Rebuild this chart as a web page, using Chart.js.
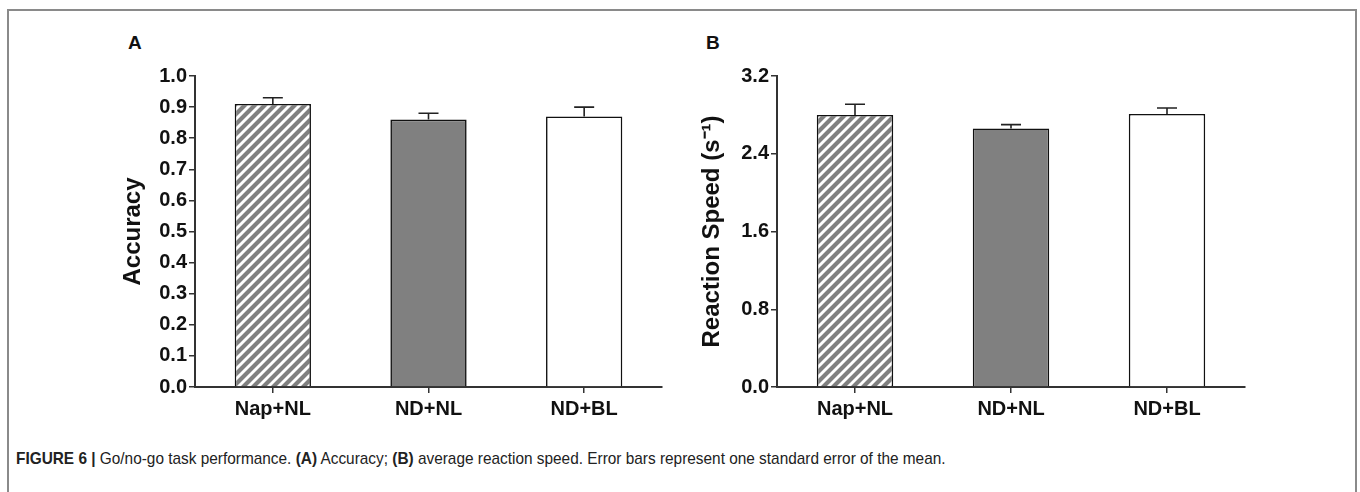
<!DOCTYPE html>
<html>
<head>
<meta charset="utf-8">
<script src="https://cdn.jsdelivr.net/npm/chart.js@4"></script>
<style>
  body { margin: 0; background: #fff; width: 1360px; height: 492px; overflow: hidden; position: relative; font-family: "Liberation Sans", Arial, sans-serif; }
  #frame { position: absolute; left: 7px; top: 9px; width: 1350px; height: 520px; border: 2px solid #8a8a8a; box-sizing: border-box; }
  .wrap { position: absolute; top: 0; width: 680px; height: 440px; }
  .panel { position: absolute; font-weight: bold; font-size: 19px; color: #111; }
  #caption { position: absolute; left: 16px; top: 449px; font-size: 17px; color: #222; white-space: nowrap; transform: scaleX(0.905); transform-origin: 0 0; }
</style>
</head>
<body>
<div id="frame"></div>
<div class="panel" style="left:128px; top:32px;">A</div>
<div class="panel" style="left:706px; top:32px;">B</div>
<div class="wrap" style="left:0px;"><canvas id="chartA" width="680" height="440"></canvas></div>
<div class="wrap" style="left:680px;"><canvas id="chartB" width="680" height="440"></canvas></div>
<div id="caption"><b>FIGURE 6 |</b> Go/no-go task performance. <b>(A)</b> Accuracy; <b>(B)</b> average reaction speed. Error bars represent one standard error of the mean.</div>
<script>
const groups = ["Nap+NL", "ND+NL", "ND+BL"];
const accuracy = [0.91, 0.86, 0.87];
const accuracyErr = [0.02, 0.02, 0.03];
const speed = [2.80, 2.66, 2.81];
const speedErr = [0.11, 0.04, 0.06];

const tickFont = { family: "Liberation Sans", size: 20, weight: "bold" };
const axisColor = "#333";

function hatchPattern() {
    const c = document.createElement("canvas");
    c.width = 10;
    c.height = 10;
    const g = c.getContext("2d");
    g.fillStyle = "#fff";
    g.fillRect(0, 0, 10, 10);
    g.strokeStyle = "#808080";
    g.lineWidth = 4.2;
    g.beginPath();
    g.moveTo(-5, 5); g.lineTo(5, -5);
    g.moveTo(0, 10); g.lineTo(10, 0);
    g.moveTo(5, 15); g.lineTo(15, 5);
    g.stroke();
    return g.createPattern(c, "repeat");
}

const errorBars = {
    id: "errorBars",
    afterDatasetsDraw(chart) {
        const ctx = chart.ctx;
        const errs = chart.options.plugins.errorBars.values;
        const yScale = chart.scales.y;
        const meta = chart.getDatasetMeta(0);
        ctx.save();
        ctx.strokeStyle = "#222";
        ctx.lineWidth = 1.6;
        meta.data.forEach((bar, i) => {
            const v = chart.data.datasets[0].data[i];
            const top = yScale.getPixelForValue(v + errs[i]);
            ctx.beginPath();
            ctx.moveTo(bar.x, bar.y);
            ctx.lineTo(bar.x, top);
            ctx.moveTo(bar.x - 10, top);
            ctx.lineTo(bar.x + 10, top);
            ctx.stroke();
        });
        ctx.restore();
    }
};

function createChart(id, values, errs, yMax, step, title, pad, yWidth, titlePad) {
    return new Chart(id, {
        type: "bar",
        data: {
            labels: groups,
            datasets: [{
                data: values,
                backgroundColor: [hatchPattern(), "#808080", "#fff"],
                borderColor: "#111",
                borderWidth: 1.6,
                barPercentage: 0.98,
                categoryPercentage: 0.5
            }]
        },
        options: {
            responsive: false,
            animation: false,
            layout: { padding: pad },
            plugins: {
                legend: { display: false },
                tooltip: { enabled: false },
                errorBars: { values: errs }
            },
            scales: {
                x: {
                    grid: { drawOnChartArea: false, offset: false, tickLength: 6, color: axisColor, lineWidth: 1.5 },
                    border: { display: true, color: axisColor, width: 2 },
                    ticks: { font: tickFont, color: "#111", padding: 4, maxRotation: 0 },
                    afterFit: scale => { scale.height = 53; }
                },
                y: {
                    min: 0,
                    max: yMax,
                    grid: { drawOnChartArea: false, tickLength: 6, color: axisColor, lineWidth: 1.5 },
                    border: { display: true, color: axisColor, width: 2 },
                    ticks: { stepSize: step, font: tickFont, color: "#111", padding: 2, callback: v => v.toFixed(1) },
                    title: {
                        display: true,
                        text: title,
                        color: "#111",
                        font: { family: "Liberation Sans", size: 24, weight: "bold" },
                        padding: { top: titlePad, bottom: 0 }
                    },
                    afterFit: scale => { scale.width = yWidth; }
                }
            }
        },
        plugins: [errorBars]
    });
}

createChart("chartA", accuracy, accuracyErr, 1.0, 0.1, "Accuracy",
    { left: 100, top: 76, right: 18, bottom: 0 }, 95, 19);
createChart("chartB", speed, speedErr, 3.2, 0.8, "Reaction Speed (s\u207B\u00B9)",
    { left: 10, top: 76, right: 115, bottom: 0 }, 87, 8);
</script>
</body>
</html>
